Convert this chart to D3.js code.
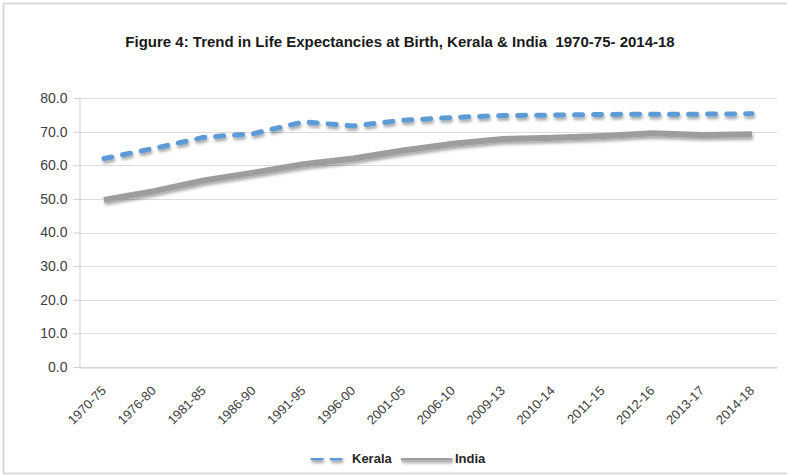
<!DOCTYPE html>
<html>
<head>
<meta charset="utf-8">
<script src="https://cdn.jsdelivr.net/npm/d3@7"></script>
<style>
  body { margin: 0; background: #fff; }
  svg { display: block; font-family: "Liberation Sans Narrow", "Liberation Sans", sans-serif; }
  text { white-space: pre; }
</style>
</head>
<body>
<svg id="chart" width="787" height="476"></svg>
<script>
// periods (x axis)
var periods = ["1970-75", "1976-80", "1981-85", "1986-90", "1991-95", "1996-00", "2001-05",
               "2006-10", "2009-13", "2010-14", "2011-15", "2012-16", "2013-17", "2014-18"];
// life expectancy at birth
var kerala = [62.0, 65.0, 68.3, 69.4, 72.9, 71.7, 73.4, 74.2, 74.8, 74.9, 75.1, 75.2, 75.2, 75.3];
var india  = [49.7, 52.3, 55.5, 57.8, 60.3, 62.0, 64.4, 66.4, 67.8, 68.2, 68.7, 69.5, 69.0, 69.2];
var yTicks = [0, 10, 20, 30, 40, 50, 60, 70, 80];

var svg = d3.select("#chart");

var plotLeft = 79, plotRight = 777, plotTop = 98, plotBottom = 367;

// outer frame
svg.append("rect")
    .attr("x", 3.5).attr("y", 3.5)
    .attr("width", 790).attr("height", 470)
    .attr("fill", "none")
    .attr("stroke", "#d9d9d9")
    .attr("stroke-width", 2);

// drop shadow for the lines (user space so flat legend lines keep it)
var defs = svg.append("defs");
var f = defs.append("filter").attr("id", "shadow")
    .attr("filterUnits", "userSpaceOnUse")
    .attr("x", 0).attr("y", 0).attr("width", 787).attr("height", 476);
f.append("feDropShadow")
    .attr("dx", 1).attr("dy", 2.5)
    .attr("stdDeviation", 1.5)
    .attr("flood-color", "#000")
    .attr("flood-opacity", 0.35);

svg.append("text")
    .attr("x", 400).attr("y", 47)
    .attr("text-anchor", "middle")
    .attr("font-size", "15px")
    .attr("font-weight", "bold")
    .attr("fill", "#1a1a1a")
    .text("Figure 4: Trend in Life Expectancies at Birth, Kerala & India  1970-75- 2014-18");

var x = d3.scaleBand().domain(periods).range([plotLeft, plotRight]);
var y = d3.scaleLinear().domain([0, 80]).range([plotBottom, plotTop]);

// gridlines
svg.append("g")
    .selectAll("line")
    .data(yTicks)
    .enter()
    .append("line")
    .attr("x1", plotLeft).attr("x2", plotRight)
    .attr("y1", function (d) { return Math.round(y(d)) + 0.5; })
    .attr("y2", function (d) { return Math.round(y(d)) + 0.5; })
    .attr("stroke", "#dcdcdc")
    .attr("stroke-width", 1);

// y axis
var yAxis = svg.append("g")
    .attr("transform", "translate(" + (plotLeft + 0.5) + ",0)")
    .call(d3.axisLeft(y).tickValues(yTicks).tickSize(6).tickPadding(6)
        .tickFormat(function (d) { return d.toFixed(1); }));
yAxis.select(".domain").attr("stroke", "#cfcfcf");
yAxis.selectAll(".tick line").attr("stroke", "#cfcfcf");
yAxis.selectAll("text")
    .attr("font-family", "Liberation Sans Narrow, Liberation Sans, sans-serif")
    .attr("font-size", "14px")
    .attr("fill", "#404040");

// x axis labels
var xAxis = svg.append("g")
    .attr("transform", "translate(0," + (plotBottom + 0.5) + ")")
    .call(d3.axisBottom(x).tickSize(0).tickPadding(0));
xAxis.select(".domain").attr("stroke", "#cfcfcf");
xAxis.selectAll("text")
    .attr("font-family", "Liberation Sans Narrow, Liberation Sans, sans-serif")
    .attr("font-size", "13px")
    .attr("fill", "#404040")
    .attr("text-anchor", "end")
    .attr("dy", 0)
    .attr("transform", "translate(3,24) rotate(-45)");

var line = d3.line()
    .x(function (d, i) { return x(periods[i]) + x.bandwidth() / 2; })
    .y(function (d) { return y(d); });

svg.append("path")
    .datum(india)
    .attr("d", line)
    .attr("fill", "none")
    .attr("stroke", "#9d9d9d")
    .attr("stroke-width", 6)
    .attr("filter", "url(#shadow)");

svg.append("path")
    .datum(kerala)
    .attr("d", line)
    .attr("fill", "none")
    .attr("stroke", "#5b9bd5")
    .attr("stroke-width", 5)
    .attr("stroke-linecap", "round")
    .attr("stroke-dasharray", "8 11")
    .attr("filter", "url(#shadow)");

// legend
var legend = svg.append("g").attr("transform", "translate(0,458)");
legend.append("line")
    .attr("x1", 313).attr("x2", 349).attr("y1", 0).attr("y2", 0)
    .attr("stroke", "#5b9bd5").attr("stroke-width", 5)
    .attr("stroke-linecap", "round").attr("stroke-dasharray", "8 11")
    .attr("filter", "url(#shadow)");
legend.append("text")
    .attr("x", 352).attr("y", 5)
    .attr("font-size", "13px").attr("font-weight", "bold").attr("fill", "#262626")
    .text("Kerala");
legend.append("line")
    .attr("x1", 401).attr("x2", 452).attr("y1", 0).attr("y2", 0)
    .attr("stroke", "#9d9d9d").attr("stroke-width", 5)
    .attr("filter", "url(#shadow)");
legend.append("text")
    .attr("x", 455).attr("y", 5)
    .attr("font-size", "13px").attr("font-weight", "bold").attr("fill", "#262626")
    .text("India");
</script>
</body>
</html>
